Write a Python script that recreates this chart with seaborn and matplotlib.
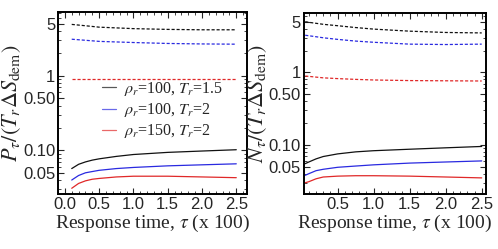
import numpy as np
import pandas as pd
import seaborn as sns
import matplotlib
matplotlib.use("Agg")
import matplotlib.pyplot as plt
from matplotlib.lines import Line2D
from matplotlib.ticker import FixedLocator, FixedFormatter, MultipleLocator, NullFormatter

# values (log y)
labels = [r"$\rho_r$=100, $T_r$=1.5", r"$\rho_r$=100, $T_r$=2", r"$\rho_r$=150, $T_r$=2"]
colors = ["#111111", "#2a2ae0", "#e02828"]

tau_p = [0.1, 0.2, 0.3, 0.4, 0.5, 0.75, 1.0, 1.5, 2.0, 2.5]
p_solid_black = [0.057, 0.065, 0.070, 0.074, 0.077, 0.083, 0.088, 0.094, 0.098, 0.102]
p_solid_blue = [0.040, 0.046, 0.050, 0.052, 0.054, 0.057, 0.059, 0.062, 0.064, 0.066]
p_solid_red = [0.031, 0.036, 0.039, 0.041, 0.042, 0.044, 0.045, 0.045, 0.044, 0.043]
p_dash_black = [4.9, 4.8, 4.7, 4.6, 4.5, 4.4, 4.3, 4.2, 4.15, 4.15]
p_dash_blue = [3.1, 3.05, 3.0, 2.95, 2.9, 2.85, 2.8, 2.72, 2.68, 2.66]
p_dash_red = [0.90, 0.90, 0.90, 0.90, 0.90, 0.90, 0.90, 0.90, 0.90, 0.90]

tau_n = [0.05, 0.1, 0.2, 0.3, 0.5, 0.75, 1.0, 1.5, 2.0, 2.5]
n_solid_black = [0.055, 0.058, 0.064, 0.069, 0.075, 0.080, 0.083, 0.087, 0.091, 0.095]
n_solid_blue = [0.038, 0.040, 0.044, 0.046, 0.049, 0.051, 0.053, 0.056, 0.058, 0.060]
n_solid_red = [0.030, 0.031, 0.034, 0.036, 0.037, 0.0375, 0.0375, 0.037, 0.036, 0.035]
n_dash_black = [5.0, 4.9, 4.75, 4.6, 4.4, 4.15, 3.95, 3.7, 3.55, 3.5]
n_dash_blue = [3.25, 3.2, 3.1, 3.0, 2.85, 2.7, 2.6, 2.45, 2.42, 2.45]
n_dash_red = [0.89, 0.88, 0.86, 0.84, 0.82, 0.80, 0.785, 0.77, 0.765, 0.76]

yticks = [0.05, 0.10, 0.50, 1, 5]
yticklabels = ["0.05", "0.10", "0.50", "1", "5"]


def to_long(tau, solids, dashes):
    rows = []
    for lab, ys in zip(labels, solids):
        rows += [(t, v, lab, "solid") for t, v in zip(tau, ys)]
    for lab, ys in zip(labels, dashes):
        rows += [(t, v, lab, "dash") for t, v in zip(tau, ys)]
    return pd.DataFrame(rows, columns=["tau", "val", "case", "kind"])


df_p = to_long(tau_p, [p_solid_black, p_solid_blue, p_solid_red],
               [p_dash_black, p_dash_blue, p_dash_red])
df_n = to_long(tau_n, [n_solid_black, n_solid_blue, n_solid_red],
               [n_dash_black, n_dash_blue, n_dash_red])

sns.set_style("ticks")
plt.rcParams["font.family"] = ["Liberation Sans", "DejaVu Sans"]
plt.rcParams["mathtext.fontset"] = "stix"

fig = plt.figure(figsize=(4.98, 2.49), dpi=100)
ax1 = fig.add_axes([0.1165, 0.221, 0.38, 0.731])
ax2 = fig.add_axes([0.610, 0.221, 0.366, 0.727])

palette = dict(zip(labels, colors))
dash_map = {"solid": "", "dash": (2.5, 1.5)}


def draw(ax, df):
    sns.lineplot(data=df, x="tau", y="val", hue="case", style="kind",
                 palette=palette, dashes=dash_map, hue_order=labels,
                 style_order=["solid", "dash"], ax=ax, lw=0.9, legend=False,
                 estimator=None, sort=True)
    ax.set_yscale("log")
    ax.yaxis.set_major_locator(FixedLocator(yticks))
    ax.yaxis.set_major_formatter(FixedFormatter(yticklabels))
    ax.yaxis.set_minor_formatter(NullFormatter())
    ax.xaxis.set_major_locator(MultipleLocator(0.5))
    ax.xaxis.set_minor_locator(MultipleLocator(0.1))
    ax.tick_params(which="both", direction="in", top=True, right=True, labelsize=12, pad=2)
    ax.tick_params(which="major", length=4, width=0.8)
    ax.tick_params(which="minor", length=2, width=0.6)
    for s in ax.spines.values():
        s.set_linewidth(1.4)
        s.set_color("black")
    ax.set_xlabel(r"Response time, $\tau$ (x 100)", family="Liberation Serif", fontsize=14, labelpad=1)


draw(ax1, df_p)
draw(ax2, df_n)

ax1.set_xlim(-0.1, 2.66)
ax1.set_ylim(0.026, 7.2)
ax2.set_xlim(0.03, 2.56)
ax2.set_ylim(0.021, 6.6)
ax2.set_xticks([0.5, 1.0, 1.5, 2.0, 2.5])

ax1.set_ylabel(r"$P_\tau/(T_r\Delta S_{\rm dem})$", fontsize=16, labelpad=0)
ax2.set_ylabel(r"$N_\tau/(T_r\Delta S_{\rm dem})$", fontsize=16, labelpad=0)

handles = [Line2D([], [], color=c, lw=0.9, alpha=0.7) for c in colors]
ax1.legend(handles, labels, loc="upper left", bbox_to_anchor=(0.19, 0.67), frameon=False,
           prop={"family": "Liberation Serif", "size": 11.5},
           handlelength=0.9, handletextpad=0.5, labelspacing=0.2, borderpad=0)

fig.savefig("out.png", dpi=100)
